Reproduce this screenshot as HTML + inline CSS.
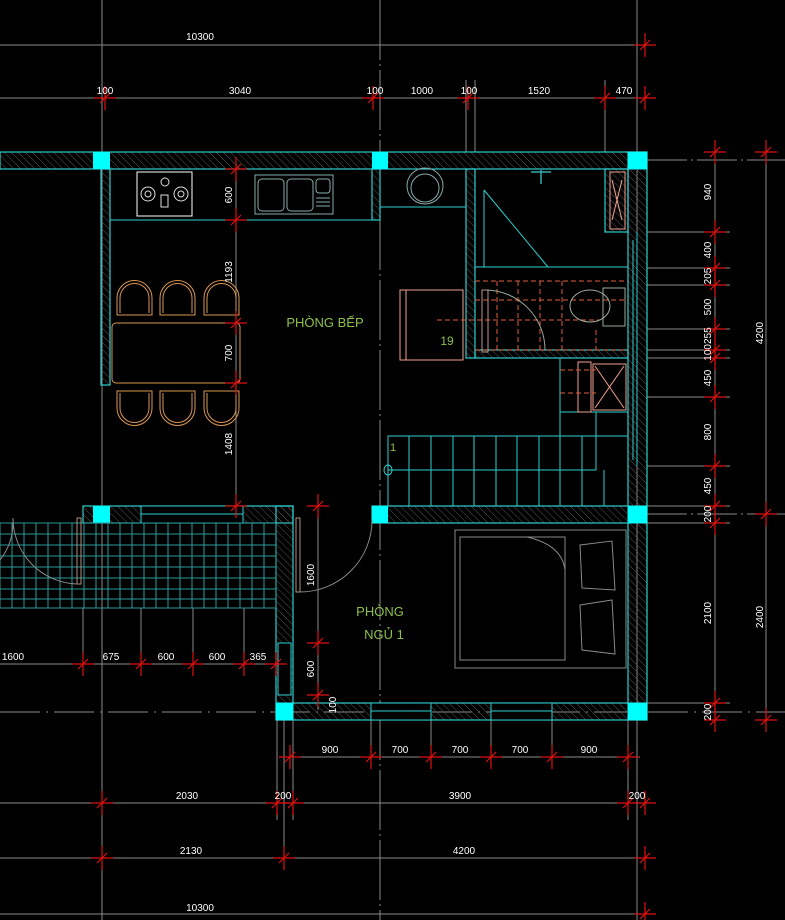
<!DOCTYPE html>
<html><head><meta charset="utf-8"><style>
html,body{margin:0;padding:0;background:#000;}
svg{display:block;}
text{font-family:"Liberation Sans",sans-serif;}
</style></head><body>
<svg width="785" height="920" viewBox="0 0 785 920" xmlns="http://www.w3.org/2000/svg">
<defs>
<pattern id="h" width="5" height="5" patternUnits="userSpaceOnUse" patternTransform="rotate(-45)">
<line x1="0" y1="0" x2="0" y2="5" stroke="#555" stroke-width="1"/>
</pattern>
<g id="t" stroke="#e01010" stroke-width="1.2"><line x1="-11" y1="0" x2="11" y2="0"/><line x1="0" y1="-12" x2="0" y2="12"/><line x1="-5" y1="5" x2="5" y2="-5"/></g>
</defs>
<rect width="785" height="920" fill="#000"/>

<!-- grey extension/dim lines -->
<g stroke="#8a8a8a" stroke-width="1" fill="none">
<line x1="102" y1="0" x2="102" y2="920"/>
<line x1="380" y1="0" x2="380" y2="920" stroke-dasharray="60 4 2 4"/>
<line x1="637" y1="0" x2="637" y2="920"/>
<line x1="466" y1="80" x2="466" y2="152"/><line x1="475" y1="80" x2="475" y2="152"/>
<line x1="605" y1="80" x2="605" y2="152"/>
<line x1="0" y1="45" x2="655" y2="45"/>
<line x1="0" y1="98" x2="655" y2="98"/>
<line x1="0" y1="803" x2="655" y2="803"/>
<line x1="0" y1="858" x2="655" y2="858"/>
<line x1="0" y1="914" x2="655" y2="914"/>
<line x1="0" y1="664" x2="280" y2="664"/>
<line x1="285" y1="757" x2="640" y2="757"/>
<line x1="236" y1="160" x2="236" y2="506"/>
<line x1="318" y1="495" x2="318" y2="710"/>
<line x1="277" y1="720" x2="277" y2="820"/><line x1="284" y1="720" x2="284" y2="870"/><line x1="293" y1="720" x2="293" y2="820"/>
<line x1="628" y1="720" x2="628" y2="820"/>
<line x1="141" y1="608" x2="141" y2="675"/><line x1="193" y1="608" x2="193" y2="675"/><line x1="244" y1="608" x2="244" y2="675"/><line x1="83" y1="608" x2="83" y2="675"/>
<line x1="371" y1="720" x2="371" y2="768"/><line x1="431" y1="720" x2="431" y2="768"/><line x1="491" y1="720" x2="491" y2="768"/><line x1="552" y1="720" x2="552" y2="768"/>
<line x1="715" y1="140" x2="715" y2="730"/>
<line x1="766" y1="140" x2="766" y2="730"/>
<line x1="647" y1="160" x2="785" y2="160" stroke-dasharray="40 4 2 4"/>
<line x1="647" y1="232" x2="730" y2="232"/>
<line x1="647" y1="268" x2="730" y2="268"/>
<line x1="647" y1="285" x2="730" y2="285"/>
<line x1="647" y1="329" x2="730" y2="329"/>
<line x1="647" y1="350" x2="730" y2="350"/>
<line x1="647" y1="358" x2="730" y2="358"/>
<line x1="647" y1="397" x2="730" y2="397"/>
<line x1="647" y1="466" x2="730" y2="466"/>
<line x1="647" y1="506" x2="730" y2="506"/>
<line x1="647" y1="514" x2="785" y2="514" stroke-dasharray="40 4 2 4"/>
<line x1="647" y1="523" x2="730" y2="523"/>
<line x1="647" y1="703" x2="730" y2="703"/>
<line x1="0" y1="712" x2="785" y2="712" stroke-dasharray="40 6 2 6"/>
</g>

<!-- walls -->
<g stroke="#2ecfcf" stroke-width="1.2">
<rect x="0" y="152" width="647" height="17" fill="url(#h)"/>
<rect x="101" y="169" width="9" height="216" fill="url(#h)"/>
<rect x="372" y="169" width="8" height="51" fill="url(#h)"/>
<rect x="466" y="169" width="9" height="189" fill="url(#h)"/>
<rect x="628" y="152" width="19" height="568" fill="url(#h)"/>
<rect x="605" y="169" width="23" height="63" fill="url(#h)"/>
<rect x="372" y="506" width="275" height="17" fill="url(#h)"/>
<rect x="83" y="506" width="210" height="17" fill="url(#h)"/>
<rect x="276" y="506" width="17" height="214" fill="url(#h)"/>
<rect x="276" y="703" width="371" height="17" fill="url(#h)"/>
<rect x="475" y="350" width="153" height="8" fill="url(#h)"/>
</g>
<g fill="#00ffff">
<rect x="93" y="152" width="17" height="17"/><rect x="372" y="152" width="16" height="17"/><rect x="628" y="152" width="19" height="17"/>
<rect x="93" y="506" width="17" height="17"/><rect x="372" y="506" width="16" height="17"/><rect x="628" y="506" width="19" height="17"/>
<rect x="276" y="703" width="17" height="17"/><rect x="628" y="703" width="19" height="17"/>
</g>
<!-- windows -->
<g stroke="#2ecfcf" stroke-width="1" fill="#000">
<rect x="141" y="506" width="102" height="17"/><line x1="141" y1="514" x2="243" y2="514"/>
<rect x="371" y="703" width="60" height="17"/><rect x="491" y="703" width="61" height="17"/>
<line x1="371" y1="711" x2="431" y2="711"/><line x1="491" y1="711" x2="552" y2="711"/>
<rect x="278" y="643" width="13" height="52"/>
<line x1="637" y1="232" x2="637" y2="466" />
<line x1="633" y1="240" x2="633" y2="460" />
</g>

<!-- kitchen counter -->
<g stroke="#2ecfcf" stroke-width="1" fill="none">
<line x1="110" y1="220" x2="380" y2="220"/>
<line x1="380" y1="207" x2="466" y2="207"/>
<rect x="388" y="436" width="240" height="70"/>
<line x1="388" y1="470" x2="596" y2="470"/>
<line x1="560" y1="358" x2="560" y2="436"/>
<line x1="596" y1="412" x2="596" y2="470"/>
<line x1="560" y1="412" x2="628" y2="412"/>
<line x1="475" y1="267" x2="628" y2="267"/>
<line x1="484" y1="190" x2="484" y2="267"/>
<line x1="484" y1="190" x2="548" y2="267"/>
<ellipse cx="388" cy="470" rx="4" ry="5"/>
</g>
<g stroke="#2ecfcf" stroke-width="1">
<line x1="409" y1="436" x2="409" y2="506"/><line x1="431" y1="436" x2="431" y2="506"/><line x1="453" y1="436" x2="453" y2="506"/>
<line x1="474" y1="436" x2="474" y2="506"/><line x1="496" y1="436" x2="496" y2="506"/><line x1="517" y1="436" x2="517" y2="506"/>
<line x1="539" y1="436" x2="539" y2="506"/><line x1="560" y1="436" x2="560" y2="506"/><line x1="582" y1="436" x2="582" y2="506"/>
<line x1="604" y1="470" x2="604" y2="506"/>
</g>
<!-- cooktop, sink, basin -->
<g fill="none" stroke="#ddd" stroke-width="1">
<rect x="137" y="172" width="55" height="44" stroke="#fff"/>
<circle cx="165" cy="182" r="4"/><circle cx="148" cy="194" r="7"/><circle cx="181" cy="194" r="7"/><circle cx="148" cy="194" r="3"/><circle cx="181" cy="194" r="3"/>
<rect x="161" y="195" width="7" height="12"/>
</g>
<g fill="none" stroke="#8aa" stroke-width="1">
<rect x="255" y="175" width="78" height="39"/><rect x="258" y="179" width="26" height="32" rx="4"/><rect x="287" y="179" width="26" height="32" rx="4"/><rect x="316" y="179" width="14" height="14" rx="3"/>
<line x1="316" y1="198" x2="330" y2="198"/><line x1="316" y1="202" x2="330" y2="202"/><line x1="316" y1="206" x2="330" y2="206"/>
<ellipse cx="425" cy="186" rx="18" ry="18"/><ellipse cx="425" cy="188" rx="14" ry="14"/>
</g>
<g fill="none" stroke="#3aa" stroke-width="1.5"><line x1="541" y1="170" x2="541" y2="184"/><line x1="531" y1="172" x2="551" y2="172"/></g>

<!-- dining -->
<g fill="none" stroke="#d9964f" stroke-width="1">
<path d="M117,315 V298 A17,17 0 0 1 152,298 V315 Z"/><path d="M120,313 V298 A14,14 0 0 1 149,298 V313"/>
<path d="M160,315 V298 A17,17 0 0 1 195,298 V315 Z"/><path d="M163,313 V298 A14,14 0 0 1 192,298 V313"/>
<path d="M204,315 V298 A17,17 0 0 1 239,298 V315 Z"/><path d="M207,313 V298 A14,14 0 0 1 236,298 V313"/>
<rect x="112" y="323" width="128" height="60" rx="4"/>
<path d="M117,391 V408 A17,17 0 0 0 152,408 V391 Z"/><path d="M120,393 V408 A14,14 0 0 0 149,408 V393"/>
<path d="M160,391 V408 A17,17 0 0 0 195,408 V391 Z"/><path d="M163,393 V408 A14,14 0 0 0 192,408 V393"/>
<path d="M204,391 V408 A17,17 0 0 0 239,408 V391 Z"/><path d="M207,393 V408 A14,14 0 0 0 236,408 V393"/>
</g>
<!-- fridge, bath -->
<g fill="none" stroke="#f0a090" stroke-width="1">
<rect x="400" y="290" width="63" height="70"/><line x1="406" y1="290" x2="406" y2="360"/>
<rect x="610" y="172" width="15" height="57"/><line x1="612" y1="180" x2="622" y2="220"/><line x1="622" y1="180" x2="612" y2="220"/>
<rect x="593" y="364" width="33" height="46"/><line x1="595" y1="366" x2="624" y2="408"/><line x1="624" y1="366" x2="595" y2="408"/>
<rect x="578" y="362" width="13" height="50"/>
</g>
<g fill="none" stroke="#e0603a" stroke-width="1" stroke-dasharray="5 3">
<line x1="475" y1="281" x2="628" y2="281"/><line x1="475" y1="300" x2="628" y2="300"/><line x1="437" y1="320" x2="600" y2="320"/><line x1="475" y1="350" x2="628" y2="350"/>
<line x1="497" y1="281" x2="497" y2="350"/><line x1="518" y1="281" x2="518" y2="350"/><line x1="540" y1="281" x2="540" y2="350"/><line x1="562" y1="281" x2="562" y2="350"/><line x1="596" y1="330" x2="596" y2="350"/>
<line x1="560" y1="370" x2="596" y2="370"/><line x1="560" y1="393" x2="596" y2="393"/>
</g>
<g fill="none" stroke="#9a9" stroke-width="1">
<ellipse cx="590" cy="306" rx="20" ry="16"/><rect x="603" y="288" width="22" height="38"/>
<path d="M486,290 A60,60 0 0 1 545,350"/>
<rect x="482" y="290" width="6" height="62" stroke="#b98"/>
</g>

<!-- tile grid left -->
<g stroke="#2a9a9a" stroke-width="1">
<rect x="0" y="523" width="276" height="85" fill="none"/>
<line x1="0" y1="534" x2="276" y2="534"/><line x1="0" y1="545" x2="276" y2="545"/><line x1="0" y1="556" x2="276" y2="556"/><line x1="0" y1="567" x2="276" y2="567"/><line x1="0" y1="578" x2="276" y2="578"/><line x1="0" y1="589" x2="276" y2="589"/><line x1="0" y1="599" x2="276" y2="599"/>
<line x1="12" y1="523" x2="12" y2="608"/><line x1="24" y1="523" x2="24" y2="608"/><line x1="36" y1="523" x2="36" y2="608"/><line x1="48" y1="523" x2="48" y2="608"/><line x1="60" y1="523" x2="60" y2="608"/><line x1="72" y1="523" x2="72" y2="608"/><line x1="84" y1="523" x2="84" y2="608"/><line x1="96" y1="523" x2="96" y2="608"/><line x1="108" y1="523" x2="108" y2="608"/><line x1="120" y1="523" x2="120" y2="608"/><line x1="132" y1="523" x2="132" y2="608"/><line x1="144" y1="523" x2="144" y2="608"/><line x1="156" y1="523" x2="156" y2="608"/><line x1="168" y1="523" x2="168" y2="608"/><line x1="180" y1="523" x2="180" y2="608"/><line x1="192" y1="523" x2="192" y2="608"/><line x1="204" y1="523" x2="204" y2="608"/><line x1="216" y1="523" x2="216" y2="608"/><line x1="228" y1="523" x2="228" y2="608"/><line x1="240" y1="523" x2="240" y2="608"/><line x1="252" y1="523" x2="252" y2="608"/><line x1="264" y1="523" x2="264" y2="608"/>
</g>
<!-- doors -->
<g fill="none" stroke="#9a8070" stroke-width="1">
<rect x="296" y="518" width="4" height="74" stroke="#b09080"/>
<path d="M300,592 A72,72 0 0 0 372,520" stroke="#888"/>
<rect x="77" y="518" width="4" height="66" stroke="#b09080"/>
<path d="M77,584 A66,66 0 0 1 13,518" stroke="#888"/>
<path d="M13,518 L13,520 A60,60 0 0 1 0,560" stroke="#888"/>
</g>
<!-- bed -->
<g fill="none" stroke="#888" stroke-width="1">
<rect x="455" y="530" width="171" height="138"/>
<rect x="460" y="537" width="105" height="123"/>
<path d="M527,537 Q562,545 565,570"/>
<path d="M580,545 L612,541 L615,590 L582,588 Z"/><path d="M580,605 L612,600 L615,654 L582,650 Z"/>
</g>

<!-- red ticks -->
<g>
<use href="#t" x="645" y="45"/>
<use href="#t" x="105" y="98"/><use href="#t" x="373" y="98"/><use href="#t" x="468" y="98"/><use href="#t" x="605" y="98"/><use href="#t" x="645" y="98"/>
<use href="#t" x="236" y="169"/><use href="#t" x="236" y="220"/><use href="#t" x="236" y="323"/><use href="#t" x="236" y="383"/><use href="#t" x="236" y="506"/>
<use href="#t" x="318" y="506"/><use href="#t" x="318" y="643"/><use href="#t" x="318" y="695"/>
<use href="#t" x="715" y="152"/><use href="#t" x="715" y="232"/><use href="#t" x="715" y="268"/><use href="#t" x="715" y="285"/><use href="#t" x="715" y="329"/><use href="#t" x="715" y="350"/><use href="#t" x="715" y="358"/><use href="#t" x="715" y="397"/><use href="#t" x="715" y="466"/><use href="#t" x="715" y="506"/><use href="#t" x="715" y="523"/><use href="#t" x="715" y="703"/><use href="#t" x="715" y="720"/>
<use href="#t" x="766" y="152"/><use href="#t" x="766" y="514"/><use href="#t" x="766" y="720"/>
<use href="#t" x="83" y="664"/><use href="#t" x="141" y="664"/><use href="#t" x="193" y="664"/><use href="#t" x="244" y="664"/><use href="#t" x="276" y="664"/>
<use href="#t" x="290" y="757"/><use href="#t" x="371" y="757"/><use href="#t" x="431" y="757"/><use href="#t" x="491" y="757"/><use href="#t" x="552" y="757"/><use href="#t" x="628" y="757"/>
<use href="#t" x="102" y="803"/><use href="#t" x="277" y="803"/><use href="#t" x="293" y="803"/><use href="#t" x="628" y="803"/><use href="#t" x="645" y="803"/>
<use href="#t" x="102" y="858"/><use href="#t" x="284" y="858"/><use href="#t" x="645" y="858"/>
<use href="#t" x="645" y="914"/>
</g>

<!-- text -->
<g fill="#fff" font-size="10" text-anchor="middle">
<text x="200" y="40">10300</text>
<text x="105" y="94">100</text><text x="240" y="94">3040</text><text x="375" y="94">100</text><text x="422" y="94">1000</text><text x="469" y="94">100</text><text x="539" y="94">1520</text><text x="624" y="94">470</text>
<text x="13" y="660">1600</text><text x="111" y="660">675</text><text x="166" y="660">600</text><text x="217" y="660">600</text><text x="258" y="660">365</text>
<text x="330" y="753">900</text><text x="400" y="753">700</text><text x="460" y="753">700</text><text x="520" y="753">700</text><text x="589" y="753">900</text>
<text x="187" y="799">2030</text><text x="283" y="799">200</text><text x="460" y="799">3900</text><text x="637" y="799">200</text>
<text x="191" y="854">2130</text><text x="464" y="854">4200</text>
<text x="200" y="911">10300</text>
<text transform="translate(232,195) rotate(-90)">600</text>
<text transform="translate(232,272) rotate(-90)">1193</text>
<text transform="translate(232,353) rotate(-90)">700</text>
<text transform="translate(232,444) rotate(-90)">1408</text>
<text transform="translate(314,575) rotate(-90)">1600</text>
<text transform="translate(314,669) rotate(-90)">600</text>
<text transform="translate(336,705) rotate(-90)">100</text>
<text transform="translate(711,192) rotate(-90)">940</text>
<text transform="translate(711,250) rotate(-90)">400</text>
<text transform="translate(711,276) rotate(-90)">205</text>
<text transform="translate(711,307) rotate(-90)">500</text>
<text transform="translate(711,344) rotate(-90)">100255</text>
<text transform="translate(711,378) rotate(-90)">450</text>
<text transform="translate(711,432) rotate(-90)">800</text>
<text transform="translate(711,486) rotate(-90)">450</text>
<text transform="translate(711,514) rotate(-90)">200</text>
<text transform="translate(711,613) rotate(-90)">2100</text>
<text transform="translate(711,712) rotate(-90)">200</text>
<text transform="translate(763,333) rotate(-90)">4200</text>
<text transform="translate(763,617) rotate(-90)">2400</text>
</g>
<g fill="#8cc04a" font-size="13" text-anchor="middle">
<text x="325" y="327">PHÒNG BẾP</text>
<text x="380" y="616">PHÒNG</text>
<text x="384" y="639">NGỦ 1</text>
<text x="447" y="345" font-size="12">19</text>
<text x="393" y="451" font-size="11">1</text>
</g>
</svg>
</body></html>
